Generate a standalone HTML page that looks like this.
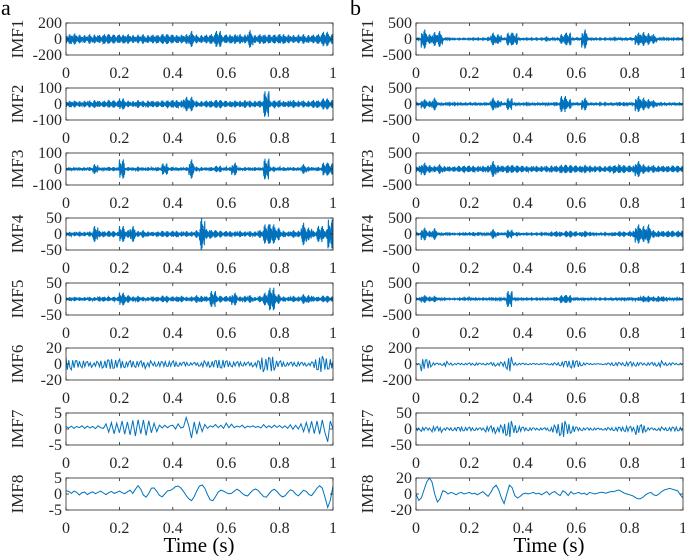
<!DOCTYPE html>
<html><head><meta charset="utf-8"><style>
body{margin:0;background:#fff;}
svg{display:block;font-family:"Liberation Serif",serif;}
</style></head><body>
<svg id="c" width="685" height="556" viewBox="0 0 685 556"></svg>
<script>
// ---- data ----
const panelLabels = ["IMF1","IMF2","IMF3","IMF4","IMF5","IMF6","IMF7","IMF8"];
const xTickLabels = ["0","0.2","0.4","0.6","0.8","1"];
const xTickValues = [0,0.2,0.4,0.6,0.8,1];
const leftLimits = [200,100,100,50,50,20,5,5];
const rightLimits = [500,500,500,500,500,200,50,20];
// envelopes: half-amplitude every 0.02 s (50 entries)
const envA1 = [60,70,55,50,60,55,50,60,55,50,55,60,50,55,60,50,55,50,60,55,50,55,60,100,55,50,55,60,100,50,55,60,60,55,110,50,60,55,50,55,60,55,50,55,60,50,55,60,90,60];
const envA2 = [20,22,18,20,22,25,18,20,22,20,35,20,18,25,20,22,20,18,20,22,25,22,45,45,20,18,22,20,25,20,18,22,20,25,22,20,22,80,20,22,18,20,25,20,22,20,25,22,35,25];
const envA3 = [10,10,10,10,12,30,10,10,12,10,60,12,10,15,10,12,10,12,35,12,10,10,12,60,15,12,10,12,20,10,12,40,10,12,10,12,10,65,15,10,12,10,12,10,30,15,10,12,40,35];
const envA4 = [7,7,8,7,8,25,10,8,9,7,25,12,25,9,12,8,7,8,9,8,10,8,9,8,12,50,15,12,10,8,9,8,10,8,9,8,12,30,30,20,10,8,12,10,35,20,10,25,15,45];
const envA5 = [6,7,6,6,7,6,8,7,6,7,20,12,8,10,7,6,8,7,10,7,8,10,7,8,12,10,8,25,10,8,9,20,8,10,12,6,10,20,35,15,8,7,10,8,15,12,8,7,10,8];
const envA6 = [8,8,7,8,6,4,5,5,6,5,6,5,7,7,8,5,3,3,3,3,4,3,4,3,4,5,4,4,5,5,4,4,5,4,5,5,10,8,9,4,4,3,4,5,4,3,7,10,7,6];
const valsA7 = [0.8,0.3,0.9,0.2,0.8,0.4,1,0.2,0.9,0.3,0.8,0.1,1,0.4,0.2,1.6,-1,2,-1.5,1.8,-1.2,2.5,-1.6,2.2,-1.8,2.7,-2.2,2.9,-1.5,2.8,-2,2.6,-1.2,1.8,-0.8,1.2,0.3,1.2,0.4,1,1.2,0,1.6,0.3,0.6,3.6,1,-2.8,2.2,-1.6,2,-0.8,1.4,0.2,1,0.6,1.4,0.4,1.2,0.2,1.8,0.4,1.5,0.4,0.9,0.6,1.2,0.3,0.9,0.6,1,0.5,0.8,0.3,1.4,0.4,1,0.4,1.2,0.5,1.1,0.3,1,0.2,1.3,-0.1,1.2,0,1.6,-0.8,2,-1,2.4,-1.4,2.5,-1.6,2.8,-1.2,-4,2.5,0];
const valsA8 = [1,0.8,0.2,0.9,0.5,-0.3,0.4,0.6,-0.2,0.3,0.7,0.1,0.5,0.9,0.3,-0.2,0.4,0.8,0.2,0.5,0.9,0.4,0.1,0.7,1.2,0.2,1.5,2.6,1.5,-0.3,-1,0.2,1.8,1.9,0.8,-0.4,-0.9,0,1,1.1,1.6,2.3,2.5,1.9,0.8,-0.5,-1.5,-2.1,-0.8,1,2.5,2.8,1.8,-0.2,-1.8,-2.1,-0.8,0.6,1.2,0.9,0.4,0.1,0.2,0.9,1.5,1,0.2,-0.4,-0.6,0.3,1.2,1.6,1.1,0.1,-0.8,-1,0,1,1.5,0.8,-0.2,-0.9,-0.6,0.4,1.3,1,0,-0.6,0.3,1.2,0.8,-0.2,-0.5,0.6,1.8,2.6,1.8,-1,-4.2,-2,2.5];
const envB1 = [40,300,150,220,250,30,20,15,15,15,20,20,20,25,200,150,40,200,180,30,20,20,20,20,80,30,30,150,200,30,30,300,40,30,20,20,25,25,30,30,30,200,220,180,150,30,25,20,20,20];
const envB2 = [30,150,100,200,40,30,25,25,30,30,30,30,30,40,200,120,40,180,40,30,25,30,30,30,40,40,60,250,150,40,30,200,30,30,25,25,30,40,60,40,40,250,200,150,120,40,30,30,30,30];
const envB3 = [100,200,120,100,150,90,80,80,90,100,100,90,100,110,250,120,100,120,110,100,90,90,100,90,100,110,100,130,120,110,100,130,110,100,100,90,110,120,120,100,110,250,150,110,120,100,100,90,100,90];
const envB4 = [30,200,100,180,40,30,20,15,20,30,60,60,40,50,150,60,40,130,60,30,20,20,20,25,50,80,90,60,100,80,60,100,70,40,30,25,40,60,80,60,100,300,250,300,120,100,90,100,80,100];
const envB5 = [20,120,80,100,40,20,15,15,20,25,40,30,20,30,50,40,30,250,40,20,20,20,20,30,30,40,60,120,120,50,30,40,30,25,20,20,30,30,40,50,40,60,100,100,80,90,80,30,25,30];
const envB6 = [10,100,90,30,20,40,15,10,10,10,15,20,15,20,40,30,40,90,15,10,10,10,10,15,15,20,20,30,40,50,40,20,15,10,10,15,20,20,15,25,30,30,20,30,40,50,20,15,10,10];
const envB7 = [5,8,6,15,15,6,5,5,6,5,6,5,6,15,20,15,20,25,12,8,6,6,5,6,8,15,20,25,15,10,6,5,6,6,5,6,5,6,6,8,8,20,22,8,6,8,5,6,6,5];
const valsB8 = [0,-8,-5,5,15,20,15,0,-10,-6,4,3,0,2,1,-1,1,2,0,1,2,0,1,-1,1,3,0,-3,2,8,11,5,-5,-12,0,11,8,-2,-5,-3,0,1,0,1,2,0,1,-1,1,3,-1,2,3,0,-2,4,2,-2,3,0,1,2,0,1,-1,2,1,0,1,2,2,1,2,3,3,4,5,3,1,0,-1,-2,-4,-6,-6,-4,-1,1,2,-1,-2,0,3,5,6,7,6,5,4,-1,-5];
const ampPattern = [1,-0.7,0.5,-0.9,0.8,-0.4,0.6,-1,0.3,-0.6];

const left = {x0:66, labels:panelLabels, limits:leftLimits, series:[envA1,envA2,envA3,envA4,envA5,envA6,valsA7,valsA8], kinds:["e","e","e","e","e","e6","v","v"]};
const right = {x0:416, labels:panelLabels, limits:rightLimits, series:[envB1,envB2,envB3,envB4,envB5,envB6,envB7,valsB8], kinds:["e","e","e","e","e","e6","e6","v"]};

const NS="http://www.w3.org/2000/svg";
const svg=document.getElementById('c');
function mk(tag,attrs,parent){const e=document.createElementNS(NS,tag);for(const k in attrs)e.setAttribute(k,attrs[k]);(parent||svg).appendChild(e);return e;}
const W=267,H=32,rowTop=[23,88,153,218,283,348,413,478];

function drawPanel(side,i,tag){
  const x0=side.x0,y0=rowTop[i],lim=side.limits[i];
  const g=mk('g',{});
  
  
  const xs=t=>x0+t*W, ys=v=>y0+H/2-v/lim*(H/2);
  const data=side.series[i],kind=side.kinds[i];
  let pts=[];
  if(kind==="v"){
    data.forEach((v,k)=>pts.push([xs(k/(data.length-1)),ys(Math.max(-lim,Math.min(lim,v)))]));
  } else {
    const per=kind==="e6"?4:14;
    const n=data.length*per;
    data.forEach((a,k)=>{for(let j=0;j<per;j++){const idx=k*per+j;const v=a*ampPattern[(idx*3+k)%ampPattern.length];pts.push([xs(idx/(n-1)),ys(Math.max(-lim,Math.min(lim,v)))]);}});
  }
  const clipId='cl'+tag+i;
  const cp=mk('clipPath',{id:clipId},g);mk('rect',{x:x0,y:y0,width:W,height:H},cp);
  const line=mk('polyline',{points:pts.map(p=>p[0].toFixed(1)+','+p[1].toFixed(1)).join(' '),fill:'none',stroke:'#0072BD','stroke-width':kind==="e"?1.1:1,'clip-path':'url(#'+clipId+')'},g);
  
  
  const box=mk('rect',{x:x0,y:y0,width:W,height:H,fill:'none',stroke:'#262626','stroke-width':0.8},g);
  
  
  xTickValues.forEach((t,k)=>{
    const x=xs(t);
    mk('line',{x1:x,x2:x,y1:y0+H,y2:y0+H-3,stroke:'#262626','stroke-width':0.8},g);
    mk('line',{x1:x,x2:x,y1:y0,y2:y0+3,stroke:'#262626','stroke-width':0.8},g);
    const tx=mk('text',{x:x,y:y0+H+23,'text-anchor':'middle','font-size':16,fill:'#262626'},g);
    tx.textContent=xTickLabels[k];
    
    
  });
  [lim,0,-lim].forEach(v=>{
    const y=ys(v);
    mk('line',{x1:x0,x2:x0+3,y1:y,y2:y,stroke:'#262626','stroke-width':0.8},g);
    mk('line',{x1:x0+W,x2:x0+W-3,y1:y,y2:y,stroke:'#262626','stroke-width':0.8},g);
    const ty=mk('text',{x:x0-4,y:y+5,'text-anchor':'end','font-size':16,fill:'#262626'},g);
    ty.textContent=String(v);
    
    
  });
  const lx=x0-43,ly=y0+H/2;
  const yl=mk('text',{x:lx,y:ly,'text-anchor':'middle','font-size':17,fill:'#262626',transform:'rotate(-90 '+lx+' '+ly+')'},g);
  yl.textContent=side.labels[i];
  
  
}
for(let i=0;i<8;i++){drawPanel(left,i,'a');drawPanel(right,i,'b');}
function txt(s,x,y,size,name,anchor){const t=mk('text',{x:x,y:y,'font-size':size,fill:'#000','text-anchor':anchor||'start'});t.textContent=s;}
txt('a',1,15,22,'panel-label-a');
txt('b',350,15,22,'panel-label-b');
txt('Time (s)',199,552,21,'x-axis-title-a','middle');
txt('Time (s)',549,552,21,'x-axis-title-b','middle');
</script>
</body></html>
